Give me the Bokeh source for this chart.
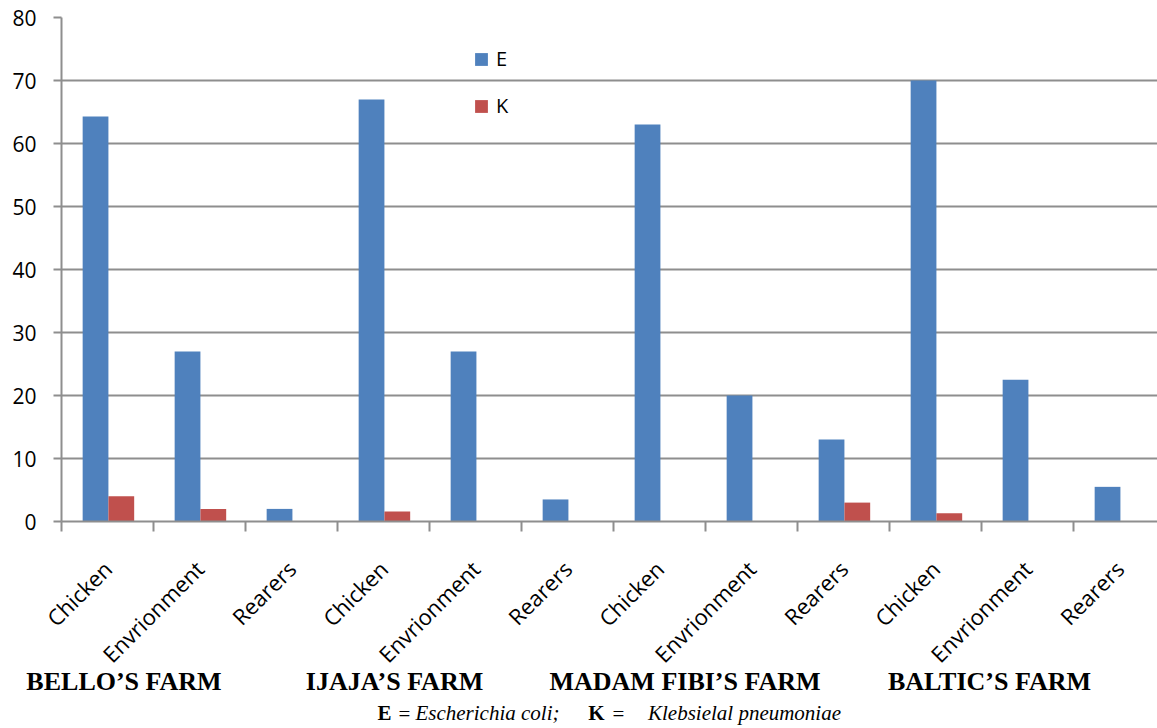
import math
from bokeh.plotting import figure
from bokeh.models import (ColumnDataSource, Range1d, FixedTicker, Legend,
                          LegendItem, CustomJSTickFormatter, LinearAxis)
from bokeh.transform import dodge
from bokeh.embed import file_html
from bokeh.resources import INLINE

# ---------------- data ----------------
farms = ["BELLO’S FARM", "IJAJA’S FARM", "MADAM FIBI’S FARM", "BALTIC’S FARM"]
samples = ["Chicken", "Envrionment", "Rearers"]
e_values = [64.3, 27.0, 2.0, 67.0, 27.0, 3.5, 63.0, 20.0, 13.0, 70.0, 22.5, 5.5]
k_values = [4.0, 2.0, 0.0, 1.6, 0.0, 0.0, 0.0, 0.0, 3.0, 1.3, 0.0, 0.0]
series_names = ["E", "K"]
y_ticks = [0, 10, 20, 30, 40, 50, 60, 70, 80]
tick_labels = samples * len(farms)
caption_bold = ["E", "K"]
caption_equals = ["=", "="]
caption_italic = ["Escherichia coli;", "Klebsielal pneumoniae"]

# ---------------- styling / layout ----------------
E_COLOR = "#4F81BD"
K_COLOR = "#C0504D"
GRID = "#8e8e8e"
AX_FONT = "Open Sans"

W, H = 1157, 728
LEFT, TOP = 61, 17
FRAME_BOTTOM = 521
SLOT_PX = 92.0


def px_to_slot(px):
    return (px - LEFT) / SLOT_PX


farm_label_px = [123.5, 394, 684.5, 989]          # centres of farm names
caption_bold_px = [384, 596]                       # centres of caption pieces
caption_equals_px = [404, 618]
caption_italic_px = [487, 744]

n = len(tick_labels)
centers = [i + 0.5 for i in range(n)]
src = ColumnDataSource(dict(x=centers, E=e_values, K=k_values))

p = figure(width=W, height=H, output_backend="svg", toolbar_location=None,
           x_range=Range1d(0, (W - LEFT) / SLOT_PX), y_range=Range1d(0, 80),
           min_border_left=LEFT, min_border_right=0, min_border_top=TOP,
           min_border_bottom=H - FRAME_BOTTOM)
p.outline_line_color = None
p.background_fill_color = "white"
p.border_fill_color = "white"

r_e = p.vbar(x=dodge("x", -0.13), top="E", width=0.28, source=src,
             fill_color=E_COLOR, line_color=None)
r_k = p.vbar(x=dodge("x", 0.15), top="K", width=0.28, source=src,
             fill_color=K_COLOR, line_color=None)

# x axis (sample names)
xa = p.xaxis[0]
xa.ticker = FixedTicker(ticks=centers, minor_ticks=list(range(n + 1)))
xa.formatter = CustomJSTickFormatter(args=dict(labels=tick_labels),
                                     code="const i = Math.floor(tick); return labels[i] || '';")
xa.major_label_orientation = math.pi / 4
xa.major_tick_out = 0
xa.major_tick_in = 0
xa.minor_tick_out = 10
xa.minor_tick_in = 0
xa.minor_tick_line_color = GRID
xa.minor_tick_line_width = 2
xa.axis_line_color = GRID
xa.axis_line_width = 2
xa.major_label_standoff = 33
xa.major_label_text_font = AX_FONT
xa.major_label_text_font_size = "22px"
xa.major_label_text_color = "#000000"


def text_axis(positions_px, names, standoff, style, size):
    ax = LinearAxis(ticker=FixedTicker(ticks=[px_to_slot(v) for v in positions_px],
                                       minor_ticks=[]),
                    formatter=CustomJSTickFormatter(args=dict(names=names),
                                                    code="return names[index] || '';"),
                    axis_line_color=None, major_tick_line_color=None,
                    minor_tick_line_color=None, major_tick_out=0, major_tick_in=0,
                    major_label_standoff=standoff,
                    major_label_text_font="Liberation Serif",
                    major_label_text_font_style=style,
                    major_label_text_font_size=size,
                    major_label_text_color="#000000")
    p.add_layout(ax, "below")
    return ax


# farm names (second row under the sample names)
text_axis(farm_label_px, farms, -16, "bold", "26px")
# caption pieces: three axes drawn on the same row
text_axis(caption_italic_px, caption_italic, 2, "italic", "21px")
text_axis(caption_bold_px, caption_bold, -27, "bold", "21px")
text_axis(caption_equals_px, caption_equals, -26, "normal", "21px")

# y axis
ya = p.yaxis[0]
ya.ticker = FixedTicker(ticks=y_ticks, minor_ticks=[])
ya.major_tick_out = 8
ya.major_tick_in = 0
ya.major_tick_line_color = GRID
ya.major_tick_line_width = 2
ya.axis_line_color = GRID
ya.axis_line_width = 2
ya.major_label_standoff = 17
ya.major_label_text_font = AX_FONT
ya.major_label_text_font_size = "21px"
ya.major_label_text_color = "#000000"

p.xgrid.visible = False
p.ygrid.ticker = FixedTicker(ticks=y_ticks)
p.ygrid.grid_line_color = GRID
p.ygrid.grid_line_width = 2

# legend
legend = Legend(items=[LegendItem(label=series_names[0], renderers=[r_e]),
                       LegendItem(label=series_names[1], renderers=[r_k])],
                location=(412, 402), orientation="vertical",
                glyph_width=16, glyph_height=16, label_height=20,
                label_standoff=7, spacing=20, padding=0, margin=0,
                border_line_color=None, background_fill_alpha=0,
                label_text_font=AX_FONT, label_text_font_size="20px",
                label_text_color="#000000")
p.add_layout(legend, "center")

open("out.html", "w").write(file_html(p, INLINE))
